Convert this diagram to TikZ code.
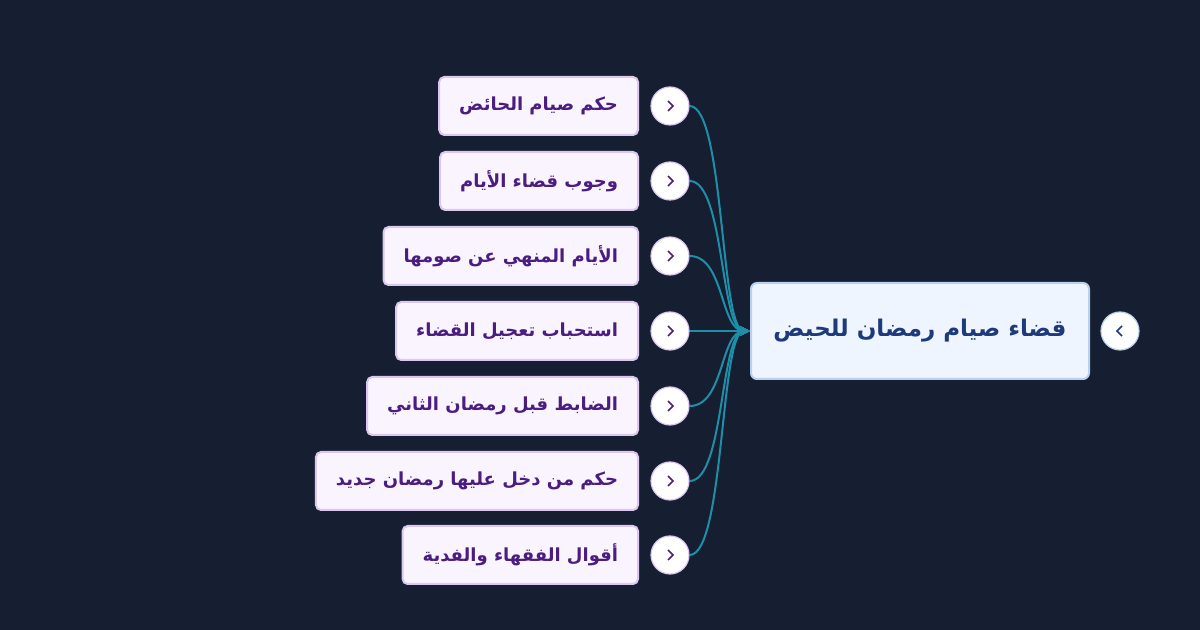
\documentclass[tikz,border=0pt]{standalone}
\usepackage{fontspec}
\newfontfamily\arabicfont[Script=Arabic]{DejaVu Sans}
\TeXXeTstate=1
\usetikzlibrary{arrows.meta}
\definecolor{bg}{HTML}{161E31}
\definecolor{rootfill}{HTML}{EEF5FF}
\definecolor{rootline}{HTML}{B9D0F0}
\definecolor{roottext}{HTML}{1E3A7A}
\definecolor{kidfill}{HTML}{FAF4FE}
\definecolor{kidline}{HTML}{DCC6F2}
\definecolor{kidtext}{HTML}{4B1D80}
\definecolor{link}{HTML}{1E8FA8}
\tikzset{
 kid/.style={draw=kidline,line width=1pt,fill=kidfill,rounded corners=2.5pt,minimum height=29pt,anchor=east,inner xsep=10pt,font=\arabicfont\bfseries\fontsize{9}{10}\selectfont,text=kidtext},
 rootbox/.style={draw=rootline,line width=1pt,fill=rootfill,rounded corners=3pt,minimum height=48pt,minimum width=169pt,font=\arabicfont\bfseries\fontsize{11.5}{13}\selectfont,text=roottext},
 btn/.style={circle,draw=kidline,line width=0.6pt,fill=white,minimum size=19pt,inner sep=0pt},
 link/.style={draw=link,line width=1pt},
}
\begin{document}
\begin{tikzpicture}[x=0.5pt,y=-0.5pt]
\fill[bg] (0,0) rectangle (1200,630);
\useasboundingbox (0,0) rectangle (1200,630);
\node[rootbox] (root) at (920,331) {\beginR قضاء صيام رمضان للحيض\endR};
\node[btn,draw=rootline] (rb) at (1120,331) {};
\draw[roottext,line width=0.8pt] ([xshift=1pt,yshift=2.5pt]rb.center) -- ([xshift=-1.5pt]rb.center) -- ([xshift=1pt,yshift=-2.5pt]rb.center);
\foreach \i/\y/\t in {1/106/حكم صيام الحائض,2/181/وجوب قضاء الأيام,3/256/الأيام المنهي عن صومها,4/331/استحباب تعجيل القضاء,5/406/الضابط قبل رمضان الثاني,6/481/حكم من دخل عليها رمضان جديد,7/555/أقوال الفقهاء والفدية}{
 \node[kid] (k\i) at (639,\y) {\beginR \t\endR};
 \node[btn] (b\i) at (670,\y) {};
 \draw[kidtext,line width=0.8pt] ([xshift=-1pt,yshift=2.5pt]b\i.center) -- ([xshift=1.5pt]b\i.center) -- ([xshift=-1pt,yshift=-2.5pt]b\i.center);
 \draw[link,-{Stealth[length=5pt,width=5pt]}] (b\i.east) .. controls +(35,0) and +(-30,0) .. (root.west);
}
\end{tikzpicture}
\end{document}
